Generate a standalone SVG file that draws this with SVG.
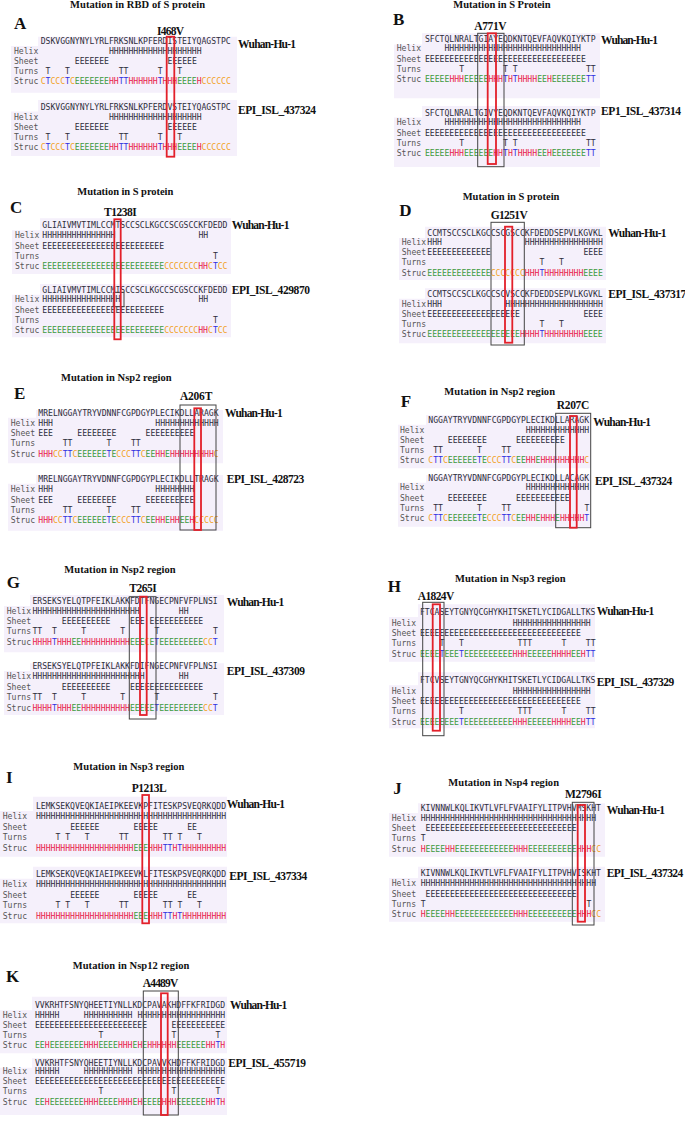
<svg xmlns="http://www.w3.org/2000/svg" width="685" height="1124" viewBox="0 0 685 1124">
<style>
.ti{font-family:"Liberation Serif",serif;font-weight:bold;font-size:10.5px;fill:#111}
.lt{font-family:"Liberation Serif",serif;font-weight:bold;font-size:17px;fill:#111}
.mu{font-family:"Liberation Serif",serif;font-weight:bold;font-size:11.5px;fill:#111}
.nm{font-family:"Liberation Serif",serif;font-weight:bold;font-size:11.5px;fill:#111}
.m{font-family:"DejaVu Sans Mono","Liberation Mono",monospace;font-size:8.1px;fill:#2d2d3a}
.lb{fill:#555}
.bg{fill:#f5f0fb}
.rb{fill:none;stroke:#e3202a;stroke-width:1.8}
.kb{fill:none;stroke:#444;stroke-width:1}
.h{fill:#e8204a}.e{fill:#3d9a3d}.c{fill:#f2a124}.t{fill:#2f2fe0}
</style>
<rect width="685" height="1124" fill="#ffffff"/>

<g id="panelA">
<path class="bg" d="M38,36.7H237V92.7H11V46H38Z"/>
<path class="bg" d="M38,100H237V156H11V111.5H38Z"/>
<text class="ti" x="70" y="8" textLength="135">Mutation in RBD of S protein</text>
<text class="lt" x="14" y="29">A</text>
<text class="mu" x="157" y="34.5" textLength="27">I468V</text>
<text class="nm" x="238" y="47.5" textLength="58">Wuhan-Hu-1</text>
<text class="nm" x="238" y="113.5" textLength="78">EPI_ISL_437324</text>
<text class="m" x="40.7" y="44">DSKVGGNYNYLYRLFRKSNLKPFERDISTEIYQAGSTPC</text>
<text class="m lb" x="14" y="54.3">Helix</text>
<text class="m lb" x="14" y="64.3">Sheet</text>
<text class="m lb" x="14" y="74.3">Turns</text>
<text class="m lb" x="14" y="84.3">Struc</text>
<text class="m" x="109" y="54.3">HHHHHHHHHHHHHHHHHHH</text>
<text class="m" y="64.3"><tspan x="74.85">EEEEEEE</tspan><tspan x="167.53">EEEEEE</tspan></text>
<text class="m" y="74.3"><tspan x="45.58">T</tspan><tspan x="65.09">T</tspan><tspan x="118.75">TT</tspan><tspan x="157.77">T</tspan><tspan x="177.28">T</tspan></text>
<text class="m" x="40.7" y="84.3"><tspan class="c">C</tspan><tspan class="t">T</tspan><tspan class="c">CCC</tspan><tspan class="t">T</tspan><tspan class="c">C</tspan><tspan class="e">EEEEEEE</tspan><tspan class="h">HH</tspan><tspan class="t">TT</tspan><tspan class="h">HHHHHH</tspan><tspan class="t">T</tspan><tspan class="h">HHH</tspan><tspan class="e">EEEE</tspan><tspan class="h">H</tspan><tspan class="c">CCCCCC</tspan></text>
<text class="m" x="40.7" y="109.5">DSKVGGNYNYLYRLFRKSNLKPFERDVSTEIYQAGSTPC</text>
<text class="m lb" x="14" y="119.5">Helix</text>
<text class="m lb" x="14" y="129.5">Sheet</text>
<text class="m lb" x="14" y="139.5">Turns</text>
<text class="m lb" x="14" y="149.5">Struc</text>
<text class="m" x="109" y="119.5">HHHHHHHHHHHHHHHHHHH</text>
<text class="m" y="129.5"><tspan x="74.85">EEEEEEE</tspan><tspan x="167.53">EEEEEE</tspan></text>
<text class="m" y="139.5"><tspan x="45.58">T</tspan><tspan x="65.09">T</tspan><tspan x="118.75">TT</tspan><tspan x="157.77">T</tspan><tspan x="177.28">T</tspan></text>
<text class="m" x="40.7" y="149.5"><tspan class="c">C</tspan><tspan class="t">T</tspan><tspan class="c">CCC</tspan><tspan class="t">T</tspan><tspan class="c">C</tspan><tspan class="e">EEEEEEE</tspan><tspan class="h">HH</tspan><tspan class="t">TT</tspan><tspan class="h">HHHHHH</tspan><tspan class="t">T</tspan><tspan class="h">HHH</tspan><tspan class="e">EEEE</tspan><tspan class="h">H</tspan><tspan class="c">CCCCCC</tspan></text>
<rect class="rb" x="166.7" y="36.7" width="7.6" height="120"/>
</g>

<g id="panelB">
<path class="bg" d="M422,33.3H600V98.3H394V44.5H422Z"/>
<path class="bg" d="M422,106H600V167H394V117.5H422Z"/>
<text class="ti" x="453.3" y="7.5" textLength="97.3">Mutation in S Protein</text>
<text class="lt" x="393" y="25">B</text>
<text class="mu" x="474.3" y="29.5" textLength="32.3">A771V</text>
<text class="nm" x="601" y="44.3" textLength="57">Wuhan-Hu-1</text>
<text class="nm" x="601" y="115" textLength="80">EP1_ISL_437314</text>
<text class="m" x="425" y="42.3">SFCTQLNRALTGIAYEQDKNTQEVFAQVKQIYKTP</text>
<text class="m lb" x="396.7" y="51">Helix</text>
<text class="m lb" x="396.7" y="61.5">Sheet</text>
<text class="m lb" x="396.7" y="71.8">Turns</text>
<text class="m lb" x="396.7" y="82.2">Struc</text>
<text class="m" x="444.51" y="51">HHHHHHHHHHHHHHHHHHHHHHHHHHHH</text>
<text class="m" x="425" y="61.5">EEEEEEEEEEEEEEEEEEEEEEEEEEEEEEEEE</text>
<text class="m" y="71.8"><tspan x="459.15">T</tspan><tspan x="503.05">T</tspan><tspan x="512.8">T</tspan><tspan x="585.97">TT</tspan></text>
<text class="m" x="425" y="82.2"><tspan class="e">EEEEE</tspan><tspan class="h">HHH</tspan><tspan class="e">EEEEE</tspan><tspan class="h">HHH</tspan><tspan class="t">T</tspan><tspan class="h">H</tspan><tspan class="t">T</tspan><tspan class="h">HHHH</tspan><tspan class="e">EE</tspan><tspan class="h">H</tspan><tspan class="e">EEEEEEE</tspan><tspan class="t">TT</tspan></text>
<text class="m" x="425" y="115.7">SFCTQLNRALTGIVYEQDKNTQEVFAQVKQIYKTP</text>
<text class="m lb" x="396.7" y="125.3">Helix</text>
<text class="m lb" x="396.7" y="135.7">Sheet</text>
<text class="m lb" x="396.7" y="146">Turns</text>
<text class="m lb" x="396.7" y="156.3">Struc</text>
<text class="m" x="444.51" y="125.3">HHHHHHHHHHHHHHHHHHHHHHHHHHHH</text>
<text class="m" x="425" y="135.7">EEEEEEEEEEEEEEEEEEEEEEEEEEEEEEEEE</text>
<text class="m" y="146"><tspan x="459.15">T</tspan><tspan x="503.05">T</tspan><tspan x="512.8">T</tspan><tspan x="585.97">TT</tspan></text>
<text class="m" x="425" y="156.3"><tspan class="e">EEEEE</tspan><tspan class="h">HHH</tspan><tspan class="e">EEEEEE</tspan><tspan class="h">HH</tspan><tspan class="t">T</tspan><tspan class="h">H</tspan><tspan class="t">T</tspan><tspan class="h">HHHH</tspan><tspan class="e">EE</tspan><tspan class="h">H</tspan><tspan class="e">EEEEEEE</tspan><tspan class="t">TT</tspan></text>
<rect class="kb" x="477.7" y="33.3" width="26.3" height="133.4"/>
<rect class="rb" x="487.7" y="33.3" width="8.3" height="130.7"/>
</g>

<g id="panelC">
<path class="bg" d="M40,218.3H231V274H12V230.3H40Z"/>
<path class="bg" d="M40,284H231V337.3H12V294.7H40Z"/>
<text class="ti" x="77.3" y="195" textLength="96">Mutation in S protein</text>
<text class="lt" x="10" y="212.7">C</text>
<text class="mu" x="104" y="216" textLength="32.7">T1238I</text>
<text class="nm" x="231.7" y="229.3" textLength="57.7">Wuhan-Hu-1</text>
<text class="nm" x="231.7" y="294.3" textLength="78.3">EPI_ISL_429870</text>
<text class="m" x="42.3" y="228.3">GLIAIVMVTIMLCCMTSCCSCLKGCCSCGSCCKFDEDD</text>
<text class="m lb" x="15" y="238.3">Helix</text>
<text class="m lb" x="15" y="248.5">Sheet</text>
<text class="m lb" x="15" y="258.7">Turns</text>
<text class="m lb" x="15" y="269">Struc</text>
<text class="m" y="238.3"><tspan x="42.3">HHHHHHHHHHHHHHH</tspan><tspan x="198.4">HH</tspan></text>
<text class="m" x="42.3" y="248.5">EEEEEEEEEEEEEEEEEEEEEEEEE</text>
<text class="m" x="213.03" y="258.7">T</text>
<text class="m" x="42.3" y="269"><tspan class="e">EEEEEEEEEEEEEEEEEEEEEEEEE</tspan><tspan class="c">CCCCCCC</tspan><tspan class="h">HH</tspan><tspan class="c">C</tspan><tspan class="t">T</tspan><tspan class="c">CC</tspan></text>
<text class="m" x="42.3" y="292.7">GLIAIVMVTIMLCCMISCCSCLKGCCSCGSCCKFDEDD</text>
<text class="m lb" x="15" y="302.3">Helix</text>
<text class="m lb" x="15" y="312.7">Sheet</text>
<text class="m lb" x="15" y="323">Turns</text>
<text class="m lb" x="15" y="333.3">Struc</text>
<text class="m" y="302.3"><tspan x="42.3">HHHHHHHHHHHHHHHH</tspan><tspan x="198.4">HH</tspan></text>
<text class="m" x="42.3" y="312.7">EEEEEEEEEEEEEEEEEEEEEEEEE</text>
<text class="m" x="213.03" y="323">T</text>
<text class="m" x="42.3" y="333.3"><tspan class="e">EEEEEEEEEEEEEEEEEEEEEEEEE</tspan><tspan class="c">CCCCCCC</tspan><tspan class="h">HH</tspan><tspan class="c">C</tspan><tspan class="t">T</tspan><tspan class="c">CC</tspan></text>
<rect class="kb" x="113.3" y="292.3" width="10.7" height="14.4"/>
<rect class="rb" x="114.3" y="219.3" width="6.4" height="120"/>
</g>

<g id="panelD">
<path class="bg" d="M425,226.7H606V280H399V238H425Z"/>
<path class="bg" d="M425,288.3H606V343.3H399V298.7H425Z"/>
<text class="ti" x="462.7" y="200" textLength="96.7">Mutation in S protein</text>
<text class="lt" x="399.3" y="216">D</text>
<text class="mu" x="490.7" y="219.3" textLength="37">G1251V</text>
<text class="nm" x="608.3" y="236.7" textLength="58.3">Wuhan-Hu-1</text>
<text class="nm" x="608.3" y="298.3" textLength="78">EPI_ISL_437317</text>
<text class="m" x="427.3" y="236">CCMTSCCSCLKGCCSCGSCCKFDEDDSEPVLKGVKL</text>
<text class="m lb" x="401.7" y="245">Helix</text>
<text class="m lb" x="401.7" y="255">Sheet</text>
<text class="m lb" x="401.7" y="265.3">Turns</text>
<text class="m lb" x="401.7" y="275.7">Struc</text>
<text class="m" y="245"><tspan x="427.3">HHH</tspan><tspan x="524.86">HHHHHHHHHHHHHHHH</tspan></text>
<text class="m" y="255"><tspan x="427.3">EEEEEEEEEEEEE</tspan><tspan x="583.4">EEEE</tspan></text>
<text class="m" y="265.3"><tspan x="539.49">T</tspan><tspan x="559.01">T</tspan></text>
<text class="m" x="427.3" y="275.7"><tspan class="e">EEEEEEEEEEEEE</tspan><tspan class="c">CCCCCCC</tspan><tspan class="h">HHH</tspan><tspan class="t">T</tspan><tspan class="h">HHHHHHHH</tspan><tspan class="e">EEEE</tspan></text>
<text class="m" x="427.3" y="296.7">CCMTSCCSCLKGCCSCVSCCKFDEDDSEPVLKGVKL</text>
<text class="m lb" x="401.7" y="306.7">Helix</text>
<text class="m lb" x="401.7" y="316.7">Sheet</text>
<text class="m lb" x="401.7" y="326.7">Turns</text>
<text class="m lb" x="401.7" y="336.7">Struc</text>
<text class="m" y="306.7"><tspan x="427.3">HHH</tspan><tspan x="505.35">HHHHHHHHHHHHHHHHHHHH</tspan></text>
<text class="m" y="316.7"><tspan x="427.3">EEEEEEEEEEEEEEEEEEE</tspan><tspan x="583.4">EEEE</tspan></text>
<text class="m" y="326.7"><tspan x="539.49">T</tspan><tspan x="559.01">T</tspan></text>
<text class="m" x="427.3" y="336.7"><tspan class="e">EEEEEEEEEEEEEEEEEEE</tspan><tspan class="h">HHHH</tspan><tspan class="t">T</tspan><tspan class="h">HHHHHHHH</tspan><tspan class="e">EEEE</tspan></text>
<rect class="kb" x="491" y="222.3" width="33.3" height="122.7"/>
<rect class="rb" x="505" y="226.7" width="7.3" height="116"/>
</g>

<g id="panelE">
<path class="bg" d="M36,410H223V463.3H8V417.7H36Z"/>
<path class="bg" d="M36,475H223V530.7H8V483.7H36Z"/>
<text class="ti" x="61" y="381" textLength="110.7">Mutation in Nsp2 region</text>
<text class="lt" x="14" y="399.3">E</text>
<text class="mu" x="180" y="400" textLength="32.3">A206T</text>
<text class="nm" x="225" y="416.7" textLength="57.7">Wuhan-Hu-1</text>
<text class="nm" x="226.7" y="482.7" textLength="77.6">EPI_ISL_428723</text>
<text class="m" x="38.3" y="415.7">MRELNGGAYTRYVDNNFCGPDGYPLECIKDLLARAGK</text>
<text class="m lb" x="10.7" y="426">Helix</text>
<text class="m lb" x="10.7" y="436">Sheet</text>
<text class="m lb" x="10.7" y="446">Turns</text>
<text class="m lb" x="10.7" y="456.7">Struc</text>
<text class="m" y="426"><tspan x="38.3">HHH</tspan><tspan x="155.37">HHHHHHHHHHHHH</tspan></text>
<text class="m" y="436"><tspan x="38.3">EEE</tspan><tspan x="77.32">EEEEEEEE</tspan><tspan x="145.62">EEEEEEEEEE</tspan></text>
<text class="m" y="446"><tspan x="62.69">TT</tspan><tspan x="106.59">T</tspan><tspan x="130.98">TT</tspan></text>
<text class="m" x="38.3" y="456.7"><tspan class="h">HHH</tspan><tspan class="c">CC</tspan><tspan class="t">TT</tspan><tspan class="c">C</tspan><tspan class="e">EEEEEE</tspan><tspan class="t">T</tspan><tspan class="e">E</tspan><tspan class="c">CCC</tspan><tspan class="t">TT</tspan><tspan class="c">C</tspan><tspan class="e">EE</tspan><tspan class="h">HH</tspan><tspan class="e">E</tspan><tspan class="h">HHHHHHHHH</tspan><tspan class="c">C</tspan></text>
<text class="m" x="38.3" y="481.7">MRELNGGAYTRYVDNNFCGPDGYPLECIKDLLTRAGK</text>
<text class="m lb" x="10.7" y="492.3">Helix</text>
<text class="m lb" x="10.7" y="502.7">Sheet</text>
<text class="m lb" x="10.7" y="512.7">Turns</text>
<text class="m lb" x="10.7" y="523.3">Struc</text>
<text class="m" y="492.3"><tspan x="38.3">HHH</tspan><tspan x="155.37">HHHHHHHH</tspan></text>
<text class="m" y="502.7"><tspan x="38.3">EEE</tspan><tspan x="77.32">EEEEEEEE</tspan><tspan x="145.62">EEEEEEEEEE</tspan></text>
<text class="m" y="512.7"><tspan x="62.69">TT</tspan><tspan x="106.59">T</tspan><tspan x="130.98">TT</tspan></text>
<text class="m" x="38.3" y="523.3"><tspan class="h">HHH</tspan><tspan class="c">CC</tspan><tspan class="t">TT</tspan><tspan class="c">C</tspan><tspan class="e">EEEEEE</tspan><tspan class="t">T</tspan><tspan class="e">E</tspan><tspan class="c">CCC</tspan><tspan class="t">TT</tspan><tspan class="c">C</tspan><tspan class="e">EE</tspan><tspan class="h">HH</tspan><tspan class="e">E</tspan><tspan class="h">HH</tspan><tspan class="e">EE</tspan><tspan class="h">H</tspan><tspan class="c">CCCCC</tspan></text>
<rect class="kb" x="180" y="405" width="36" height="125"/>
<rect class="rb" x="194.3" y="408.3" width="6.7" height="121.7"/>
</g>

<g id="panelF">
<path class="bg" d="M426,415H591V468.3H398V424.7H426Z"/>
<path class="bg" d="M426,475H591V526.7H398V482.7H426Z"/>
<text class="ti" x="444.3" y="395" textLength="110.7">Mutation in Nsp2 region</text>
<text class="lt" x="400.7" y="407.3">F</text>
<text class="mu" x="556.7" y="409.3" textLength="32.6">R207C</text>
<text class="nm" x="593.3" y="426" textLength="57.7">Wuhan-Hu-1</text>
<text class="nm" x="595" y="485" textLength="77.3">EPI_ISL_437324</text>
<text class="m" x="428.3" y="422.7">NGGAYTRYVDNNFCGPDGYPLECIKDLLARAGK</text>
<text class="m lb" x="400" y="432.7">Helix</text>
<text class="m lb" x="400" y="442.7">Sheet</text>
<text class="m lb" x="400" y="452.7">Turns</text>
<text class="m lb" x="400" y="463.3">Struc</text>
<text class="m" x="525.86" y="432.7">HHHHHHHHHHHHH</text>
<text class="m" y="442.7"><tspan x="447.81">EEEEEEEE</tspan><tspan x="516.1">EEEEEEEEEE</tspan></text>
<text class="m" y="452.7"><tspan x="433.18">TT</tspan><tspan x="477.08">T</tspan><tspan x="501.47">TT</tspan></text>
<text class="m" x="428.3" y="463.3"><tspan class="c">C</tspan><tspan class="t">TT</tspan><tspan class="c">C</tspan><tspan class="e">EEEEEE</tspan><tspan class="t">T</tspan><tspan class="e">E</tspan><tspan class="c">CCC</tspan><tspan class="t">TT</tspan><tspan class="c">C</tspan><tspan class="e">EE</tspan><tspan class="h">HH</tspan><tspan class="e">E</tspan><tspan class="h">HHHHHHHHH</tspan><tspan class="c">C</tspan></text>
<text class="m" x="428.3" y="480.7">NGGAYTRYVDNNFCGPDGYPLECIKDLLACAGK</text>
<text class="m lb" x="400" y="490">Helix</text>
<text class="m lb" x="400" y="500.7">Sheet</text>
<text class="m lb" x="400" y="510.7">Turns</text>
<text class="m lb" x="400" y="521">Struc</text>
<text class="m" x="525.86" y="490">HHHHHHHHHHHHH</text>
<text class="m" y="500.7"><tspan x="447.81">EEEEEEEE</tspan><tspan x="516.1">EEEEEEEEEEE</tspan></text>
<text class="m" y="510.7"><tspan x="433.18">TT</tspan><tspan x="477.08">T</tspan><tspan x="501.47">TT</tspan><tspan x="584.4">T</tspan></text>
<text class="m" x="428.3" y="521"><tspan class="c">C</tspan><tspan class="t">TT</tspan><tspan class="c">C</tspan><tspan class="e">EEEEEE</tspan><tspan class="t">T</tspan><tspan class="e">E</tspan><tspan class="c">CCC</tspan><tspan class="t">TT</tspan><tspan class="c">C</tspan><tspan class="e">EE</tspan><tspan class="h">HH</tspan><tspan class="e">E</tspan><tspan class="h">HHH</tspan><tspan class="e">E</tspan><tspan class="h">HHHHH</tspan><tspan class="t">T</tspan></text>
<rect class="kb" x="555.7" y="413.3" width="35" height="114.4"/>
<rect class="rb" x="570" y="416" width="6.7" height="111.7"/>
</g>

<g id="panelG">
<path class="bg" d="M30,595H224V652.3H4V606H30Z"/>
<path class="bg" d="M30,663.3H224V715H4V671H30Z"/>
<text class="ti" x="64.3" y="573.3" textLength="111.4">Mutation in Nsp2 region</text>
<text class="lt" x="6.7" y="588.3">G</text>
<text class="mu" x="129.3" y="591.7" textLength="27.4">T265I</text>
<text class="nm" x="226.7" y="605.7" textLength="57.6">Wuhan-Hu-1</text>
<text class="nm" x="226.7" y="675" textLength="78.3">EPI_ISL_437309</text>
<text class="m" x="32.5" y="604">ERSEKSYELQTPFEIKLAKKFDTFNGECPNFVFPLNSI</text>
<text class="m lb" x="6.7" y="614">Helix</text>
<text class="m lb" x="6.7" y="624.3">Sheet</text>
<text class="m lb" x="6.7" y="634.3">Turns</text>
<text class="m lb" x="6.7" y="645">Struc</text>
<text class="m" y="614"><tspan x="32.5">HHHHHHHHHHHHHHHHHHHHHH</tspan><tspan x="178.84">HH</tspan></text>
<text class="m" y="624.3"><tspan x="61.77">EEEEEEEEEE</tspan><tspan x="130.06">EEE</tspan><tspan x="149.57">EEEEEEEEEEE</tspan></text>
<text class="m" y="634.3"><tspan x="32.5">TT</tspan><tspan x="52.01">T</tspan><tspan x="81.28">T</tspan><tspan x="120.3">T</tspan><tspan x="154.45">T</tspan><tspan x="212.99">T</tspan></text>
<text class="m" x="32.5" y="645"><tspan class="h">HHHH</tspan><tspan class="t">T</tspan><tspan class="h">HHH</tspan><tspan class="e">EE</tspan><tspan class="h">HHHHHHHHHH</tspan><tspan class="e">EEE</tspan><tspan class="c">C</tspan><tspan class="e">E</tspan><tspan class="t">T</tspan><tspan class="e">EEEEEEEEE</tspan><tspan class="c">CC</tspan><tspan class="t">T</tspan></text>
<text class="m" x="32.5" y="669">ERSEKSYELQTPFEIKLAKKFDIFNGECPNFVFPLNSI</text>
<text class="m lb" x="6.7" y="679">Helix</text>
<text class="m lb" x="6.7" y="690">Sheet</text>
<text class="m lb" x="6.7" y="700">Turns</text>
<text class="m lb" x="6.7" y="710.7">Struc</text>
<text class="m" y="679"><tspan x="32.5">HHHHHHHHHHHHHHHHHHHHHHH</tspan><tspan x="178.84">HH</tspan></text>
<text class="m" y="690"><tspan x="61.77">EEEEEEEEEE</tspan><tspan x="130.06">EEEEEEEEEEEEEEE</tspan></text>
<text class="m" y="700"><tspan x="32.5">TT</tspan><tspan x="52.01">T</tspan><tspan x="81.28">T</tspan><tspan x="120.3">T</tspan><tspan x="154.45">T</tspan><tspan x="212.99">T</tspan></text>
<text class="m" x="32.5" y="710.7"><tspan class="h">HHHH</tspan><tspan class="t">T</tspan><tspan class="h">HHH</tspan><tspan class="e">EE</tspan><tspan class="h">HHHHHHHHHH</tspan><tspan class="e">EEEEE</tspan><tspan class="t">T</tspan><tspan class="e">EEEEEEEEE</tspan><tspan class="c">CC</tspan><tspan class="t">T</tspan></text>
<rect class="kb" x="129.3" y="596.7" width="26.7" height="122.3"/>
<rect class="rb" x="140" y="596.7" width="6.7" height="118.3"/>
</g>

<g id="panelH">
<path class="bg" d="M418,604.3H595V661.7H389V617H418Z"/>
<path class="bg" d="M418,672.3H595V728.3H389V685.3H418Z"/>
<text class="ti" x="455" y="582.3" textLength="110.7">Mutation in Nsp3 region</text>
<text class="lt" x="387.7" y="591.7">H</text>
<text class="mu" x="417.7" y="600" textLength="36.6">A1824V</text>
<text class="nm" x="596.7" y="615" textLength="57.6">Wuhan-Hu-1</text>
<text class="nm" x="596.7" y="685.7" textLength="77.6">EPI_ISL_437329</text>
<text class="m" x="420" y="615">FTCASEYTGNYQCGHYKHITSKETLYCIDGALLTKS</text>
<text class="m lb" x="391.7" y="625.7">Helix</text>
<text class="m lb" x="391.7" y="635.7">Sheet</text>
<text class="m lb" x="391.7" y="646.3">Turns</text>
<text class="m lb" x="391.7" y="656.7">Struc</text>
<text class="m" x="512.68" y="625.7">HHHHHHHHHHHHHHHH</text>
<text class="m" x="420" y="635.7">EEEEEEEEEEEEEEEEEEEEEEEEEEEEEEEEE</text>
<text class="m" y="646.3"><tspan x="439.51">T</tspan><tspan x="459.02">T</tspan><tspan x="517.56">TTT</tspan><tspan x="561.46">T</tspan><tspan x="585.85">TT</tspan></text>
<text class="m" x="420" y="656.7"><tspan class="e">EEEE</tspan><tspan class="t">T</tspan><tspan class="e">EEE</tspan><tspan class="t">T</tspan><tspan class="e">EEEEEEEEEE</tspan><tspan class="h">HHH</tspan><tspan class="e">EEEEE</tspan><tspan class="h">HHHH</tspan><tspan class="e">EE</tspan><tspan class="h">H</tspan><tspan class="t">TT</tspan></text>
<text class="m" x="420" y="683.3">FTCVSEYTGNYQCGHYKHITSKETLYCIDGALLTKS</text>
<text class="m lb" x="391.7" y="694">Helix</text>
<text class="m lb" x="391.7" y="704">Sheet</text>
<text class="m lb" x="391.7" y="714.3">Turns</text>
<text class="m lb" x="391.7" y="724.7">Struc</text>
<text class="m" x="512.68" y="694">HHHHHHHHHHHHHHHH</text>
<text class="m" x="420" y="704">EEEEEEEEEEEEEEEEEEEEEEEEEEEEEEEEE</text>
<text class="m" y="714.3"><tspan x="459.02">T</tspan><tspan x="517.56">TTT</tspan><tspan x="561.46">T</tspan><tspan x="585.85">TT</tspan></text>
<text class="m" x="420" y="724.7"><tspan class="e">EEEEEEEE</tspan><tspan class="t">T</tspan><tspan class="e">EEEEEEEEEE</tspan><tspan class="h">HHH</tspan><tspan class="e">EEEEE</tspan><tspan class="h">HHHH</tspan><tspan class="e">EE</tspan><tspan class="h">H</tspan><tspan class="t">TT</tspan></text>
<rect class="kb" x="422.7" y="602.3" width="21.3" height="133.4"/>
<rect class="rb" x="432.7" y="604.3" width="7.3" height="126.4"/>
</g>

<g id="panelI">
<path class="bg" d="M33,796.7H227V856.7H0V811H33Z"/>
<path class="bg" d="M33,866.7H227V923.3H0V878.7H33Z"/>
<text class="ti" x="73.3" y="770" textLength="111">Mutation in Nsp3 region</text>
<text class="lt" x="6" y="783.3">I</text>
<text class="mu" x="131.7" y="791.7" textLength="35">P1213L</text>
<text class="nm" x="226.7" y="808.3" textLength="58.3">Wuhan-Hu-1</text>
<text class="nm" x="229.3" y="880" textLength="78">EPI_ISL_437334</text>
<text class="m" x="36" y="809">LEMKSEKQVEQKIAEIPKEEVKPFITESKPSVEQRKQDD</text>
<text class="m lb" x="2.7" y="819.3">Helix</text>
<text class="m lb" x="2.7" y="830">Sheet</text>
<text class="m lb" x="2.7" y="840">Turns</text>
<text class="m lb" x="2.7" y="850.7">Struc</text>
<text class="m" x="36" y="819.3">HHHHHHHHHHHHHHHHHHHHHHHHHHHHHHHHHHHHHHH</text>
<text class="m" y="830"><tspan x="70.15">EEEEEE</tspan><tspan x="133.56">EEEEE</tspan><tspan x="187.22">EE</tspan></text>
<text class="m" y="840"><tspan x="55.51">T</tspan><tspan x="65.27">T</tspan><tspan x="84.78">T</tspan><tspan x="118.93">TT</tspan><tspan x="162.83">TT</tspan><tspan x="177.46">T</tspan><tspan x="196.97">T</tspan></text>
<text class="m" x="36" y="850.7"><tspan class="h">HHHHHHHHHHHHHHHHHHHH</tspan><tspan class="e">EEE</tspan><tspan class="h">HHH</tspan><tspan class="t">TT</tspan><tspan class="h">H</tspan><tspan class="t">T</tspan><tspan class="h">HHHHHHHHH</tspan></text>
<text class="m" x="36" y="876.7">LEMKSEKQVEQKIAEIPKEEVKLFITESKPSVEQRKQDD</text>
<text class="m lb" x="2.7" y="887.3">Helix</text>
<text class="m lb" x="2.7" y="897.7">Sheet</text>
<text class="m lb" x="2.7" y="908.3">Turns</text>
<text class="m lb" x="2.7" y="919">Struc</text>
<text class="m" x="36" y="887.3">HHHHHHHHHHHHHHHHHHHHHHHHHHHHHHHHHHHHHHH</text>
<text class="m" y="897.7"><tspan x="70.15">EEEEEE</tspan><tspan x="133.56">EEEEE</tspan><tspan x="187.22">EE</tspan></text>
<text class="m" y="908.3"><tspan x="55.51">T</tspan><tspan x="65.27">T</tspan><tspan x="84.78">T</tspan><tspan x="118.93">TT</tspan><tspan x="162.83">TT</tspan><tspan x="177.46">T</tspan><tspan x="196.97">T</tspan></text>
<text class="m" x="36" y="919"><tspan class="h">HHHHHHHHHHHHHHHHHHHH</tspan><tspan class="e">EEE</tspan><tspan class="h">HHH</tspan><tspan class="t">TT</tspan><tspan class="h">H</tspan><tspan class="t">T</tspan><tspan class="h">HHHHHHHHH</tspan></text>
<rect class="rb" x="142.3" y="795" width="6.7" height="128.3"/>
</g>

<g id="panelJ">
<path class="bg" d="M418,803.3H605V856.7H389V813H418Z"/>
<path class="bg" d="M418,866.7H605V921.7H389V878H418Z"/>
<text class="ti" x="448.3" y="785.7" textLength="110.7">Mutation in Nsp4 region</text>
<text class="lt" x="393.3" y="794.3">J</text>
<text class="mu" x="565" y="798.3" textLength="36.7">M2796I</text>
<text class="nm" x="606.7" y="814.3" textLength="58.3">Wuhan-Hu-1</text>
<text class="nm" x="606.7" y="876.7" textLength="76.6">EPI_ISL_437324</text>
<text class="m" x="420.7" y="810.7">KIVNNWLKQLIKVTLVFLFVAAIFYLITPVHVMSKHT</text>
<text class="m lb" x="391.7" y="820.7">Helix</text>
<text class="m lb" x="391.7" y="831">Sheet</text>
<text class="m lb" x="391.7" y="841">Turns</text>
<text class="m lb" x="391.7" y="851.7">Struc</text>
<text class="m" x="420.7" y="820.7">HHHHHHHHHHHHHHHHHHHHHHHHHHHHHHHHHHHH</text>
<text class="m" x="425.58" y="831">EEEEEEEEEEEEEEEEEEEEEEEEEEEEEEE</text>
<text class="m" x="420.7" y="841">T</text>
<text class="m" x="420.7" y="851.7"><tspan class="h">H</tspan><tspan class="e">EEEE</tspan><tspan class="h">HH</tspan><tspan class="e">EEEEEEEEEEEE</tspan><tspan class="h">HHH</tspan><tspan class="e">EEEEEEEEEE</tspan><tspan class="h">HHH</tspan><tspan class="c">CC</tspan></text>
<text class="m" x="420.7" y="875.7">KIVNNWLKQLIKVTLVFLFVAAIFYLITPVHVISKHT</text>
<text class="m lb" x="391.7" y="886">Helix</text>
<text class="m lb" x="391.7" y="896.7">Sheet</text>
<text class="m lb" x="391.7" y="906.7">Turns</text>
<text class="m lb" x="391.7" y="917.3">Struc</text>
<text class="m" x="420.7" y="886">HHHHHHHHHHHHHHHHHHHHHHHHHHHHHHHHHHHH</text>
<text class="m" x="425.58" y="896.7">EEEEEEEEEEEEEEEEEEEEEEEEEEEEEEE</text>
<text class="m" y="906.7"><tspan x="420.7">T</tspan><tspan x="586.55">T</tspan></text>
<text class="m" x="420.7" y="917.3"><tspan class="h">H</tspan><tspan class="e">EEEE</tspan><tspan class="h">HH</tspan><tspan class="e">EEEEEEEEEEEE</tspan><tspan class="h">HHH</tspan><tspan class="e">EEEEEEEEEE</tspan><tspan class="h">HHH</tspan><tspan class="c">CC</tspan></text>
<rect class="kb" x="572.3" y="802.3" width="21.7" height="122.7"/>
<rect class="rb" x="577.7" y="805" width="7.3" height="116.7"/>
</g>

<g id="panelK">
<path class="bg" d="M32,996.7H227V1053.3H0V1010.3H32Z"/>
<path class="bg" d="M32,1058.3H227V1115H0V1067.7H32Z"/>
<text class="ti" x="72.7" y="969" textLength="116.6">Mutation in Nsp12 region</text>
<text class="lt" x="6" y="981.7">K</text>
<text class="mu" x="142.7" y="986.7" textLength="35.6">A4489V</text>
<text class="nm" x="230" y="1009" textLength="57.3">Wuhan-Hu-1</text>
<text class="nm" x="228.3" y="1066.7" textLength="77.7">EPI_ISL_455719</text>
<text class="m" x="35" y="1008.3">VVKRHTFSNYQHEETIYNLLKDCPAVAKHDFFKFRIDGD</text>
<text class="m lb" x="2.7" y="1017.7">Helix</text>
<text class="m lb" x="2.7" y="1027.7">Sheet</text>
<text class="m lb" x="2.7" y="1038.3">Turns</text>
<text class="m lb" x="2.7" y="1048.3">Struc</text>
<text class="m" y="1017.7"><tspan x="35">HHHHH</tspan><tspan x="83.78">HHHHHHHHHH</tspan><tspan x="137.44">HHHHHHHHHHHHHHHHHH</tspan></text>
<text class="m" y="1027.7"><tspan x="35">EEEEEEEEEEEEEEEEEEEEEEE</tspan><tspan x="171.58">EEEEEEEEEEE</tspan></text>
<text class="m" y="1038.3"><tspan x="98.41">T</tspan><tspan x="171.58">T</tspan><tspan x="215.49">T</tspan></text>
<text class="m" x="35" y="1048.3"><tspan class="e">EE</tspan><tspan class="h">H</tspan><tspan class="e">EEEEEEE</tspan><tspan class="h">HHH</tspan><tspan class="e">EEEE</tspan><tspan class="h">HHH</tspan><tspan class="e">E</tspan><tspan class="h">H</tspan><tspan class="e">E</tspan><tspan class="h">HHHHHH</tspan><tspan class="e">EEEEEE</tspan><tspan class="h">HH</tspan><tspan class="t">T</tspan><tspan class="h">H</tspan></text>
<text class="m" x="35" y="1065.7">VVKRHTFSNYQHEETIYNLLKDCPAVVKHDFFKFRIDGD</text>
<text class="m lb" x="2.7" y="1074.3">Helix</text>
<text class="m lb" x="2.7" y="1084.3">Sheet</text>
<text class="m lb" x="2.7" y="1094.3">Turns</text>
<text class="m lb" x="2.7" y="1105">Struc</text>
<text class="m" y="1074.3"><tspan x="35">HHHHH</tspan><tspan x="83.78">HHHHHHHHHH</tspan><tspan x="137.44">HHHHHHHHHHHHHHHHHH</tspan></text>
<text class="m" x="35" y="1084.3">EEEEEEEEEEEEEEEEEEEEEEEEEEEEEEEEEEEEEEE</text>
<text class="m" y="1094.3"><tspan x="98.41">T</tspan><tspan x="171.58">T</tspan><tspan x="215.49">T</tspan></text>
<text class="m" x="35" y="1105"><tspan class="e">EE</tspan><tspan class="h">H</tspan><tspan class="e">EEEEEEE</tspan><tspan class="h">HHH</tspan><tspan class="e">EEEE</tspan><tspan class="h">HHH</tspan><tspan class="e">E</tspan><tspan class="h">H</tspan><tspan class="e">EEEE</tspan><tspan class="h">HHH</tspan><tspan class="e">EEEEEE</tspan><tspan class="h">HH</tspan><tspan class="t">T</tspan><tspan class="h">H</tspan></text>
<rect class="kb" x="143.3" y="991" width="35" height="124"/>
<rect class="rb" x="161" y="993.3" width="6.7" height="121.7"/>
</g>
</svg>
